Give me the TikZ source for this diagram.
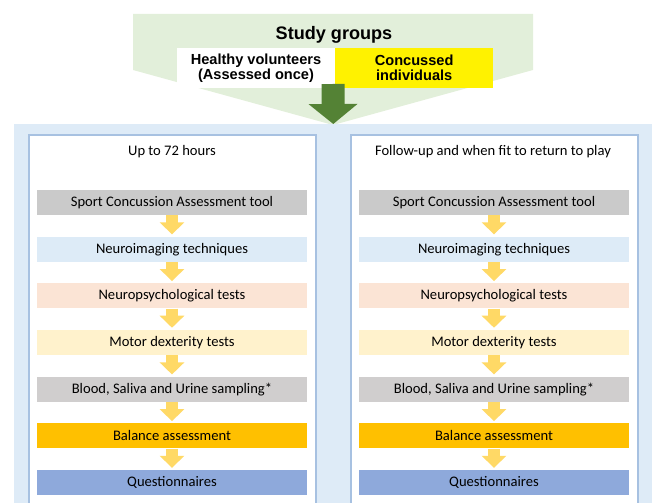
\documentclass[tikz,border=0pt]{standalone}
\usepackage{fontspec}
\setmainfont{Carlito}
\newfontfamily\arialfont{Liberation Sans}
\usetikzlibrary{arrows.meta, positioning}

\definecolor{groupgreen}{HTML}{E2EFDA}
\definecolor{darkgreen}{HTML}{548235}
\definecolor{panelblue}{HTML}{DEEBF7}
\definecolor{frameblue}{HTML}{A7C1E1}
\definecolor{scatgrey}{HTML}{CACACA}
\definecolor{neuroblue}{HTML}{DDEBF7}
\definecolor{psypeach}{HTML}{FBE4D5}
\definecolor{motorcream}{HTML}{FFF2CC}
\definecolor{fluidgrey}{HTML}{D0CECE}
\definecolor{balanceamber}{HTML}{FFC000}
\definecolor{quesblue}{HTML}{8EA9DB}
\definecolor{arrowyellow}{HTML}{FFD966}

\begin{document}
\begin{tikzpicture}[
    x=0.02cm, y=-0.02cm,
    node distance=0.42cm, % gap between the test boxes
    testbox/.style={
      rectangle,
      minimum height=0.5cm,
      minimum width=5.42cm,
      inner sep=0pt,
      align=center,
      text=black,
      font=\fontsize{8.3}{10}\selectfont
    },
    groupbox/.style={
      rectangle,
      minimum height=0.82cm,
      minimum width=3.15cm,
      inner sep=0pt,
      align=center,
      font=\arialfont\bfseries\fontsize{8.3}{8.7}\selectfont
    },
    title/.style={
      font=\fontsize{8.3}{10}\selectfont
    },
    arrow/.style={
      -{Triangle[width=0.48cm, length=0.24cm]},
      line width=0.24cm,
      draw=arrowyellow,
      shorten >=0.04cm
    },
    bigarrow/.style={
      -{Triangle[width=0.96cm, length=0.4cm]},
      line width=0.46cm,
      draw=darkgreen
    }
  ]
  \useasboundingbox (0,0) rectangle (652,503);

  % Study groups banner
  \fill[groupgreen] (133,14) -- (533,14) -- (533,70) -- (333,125) -- (133,70) -- cycle;
  \node[font=\arialfont\bfseries\fontsize{10.3}{12}\selectfont] (groups) at (334,35) {Study groups};
  \node[groupbox, fill=white] (healthy) at (256,68) {Healthy volunteers\\(Assessed once)};
  \node[groupbox, fill=yellow, right=0cm of healthy] (concussed) {Concussed\\individuals};

  % Background panel and the two time frames
  \node[rectangle, fill=panelblue, inner sep=0pt, minimum width=12.76cm, minimum height=7.72cm, anchor=north west] (panel) at (14,124) {};
  \draw[frameblue, line width=0.03cm, fill=white] (29,135) rectangle (316,520);
  \draw[frameblue, line width=0.03cm, fill=white] (351,135) rectangle (638,520);

  \coordinate (gstart) at (333,84);
  \draw[bigarrow] (gstart) -- (panel.north);

  \node[title] (acute) at (172,152) {Up to 72 hours};
  \node[title] (follow) at (493,152) {Follow-up and when fit to return to play};

  % Left column
  \node[testbox, fill=scatgrey] (scatL) at (172,202.5) {Sport Concussion Assessment tool};
  \node[testbox, fill=neuroblue, below=of scatL] (neuroL) {Neuroimaging techniques};
  \node[testbox, fill=psypeach, below=of neuroL] (psyL) {Neuropsychological tests};
  \node[testbox, fill=motorcream, below=of psyL] (motorL) {Motor dexterity tests};
  \node[testbox, fill=fluidgrey, below=of motorL] (fluidL) {Blood, Saliva and Urine sampling*};
  \node[testbox, fill=balanceamber, below=of fluidL] (balanceL) {Balance assessment};
  \node[testbox, fill=quesblue, below=of balanceL] (quesL) {Questionnaires};

  % Right column
  \node[testbox, fill=scatgrey] (scatR) at (494,202.5) {Sport Concussion Assessment tool};
  \node[testbox, fill=neuroblue, below=of scatR] (neuroR) {Neuroimaging techniques};
  \node[testbox, fill=psypeach, below=of neuroR] (psyR) {Neuropsychological tests};
  \node[testbox, fill=motorcream, below=of psyR] (motorR) {Motor dexterity tests};
  \node[testbox, fill=fluidgrey, below=of motorR] (fluidR) {Blood, Saliva and Urine sampling*};
  \node[testbox, fill=balanceamber, below=of fluidR] (balanceR) {Balance assessment};
  \node[testbox, fill=quesblue, below=of balanceR] (quesR) {Questionnaires};

  % Arrows
  \draw[arrow] (scatL) -- (neuroL);
  \draw[arrow] (neuroL) -- (psyL);
  \draw[arrow] (psyL) -- (motorL);
  \draw[arrow] (motorL) -- (fluidL);
  \draw[arrow] (fluidL) -- (balanceL);
  \draw[arrow] (balanceL) -- (quesL);

  \draw[arrow] (scatR) -- (neuroR);
  \draw[arrow] (neuroR) -- (psyR);
  \draw[arrow] (psyR) -- (motorR);
  \draw[arrow] (motorR) -- (fluidR);
  \draw[arrow] (fluidR) -- (balanceR);
  \draw[arrow] (balanceR) -- (quesR);

\end{tikzpicture}
\end{document}
